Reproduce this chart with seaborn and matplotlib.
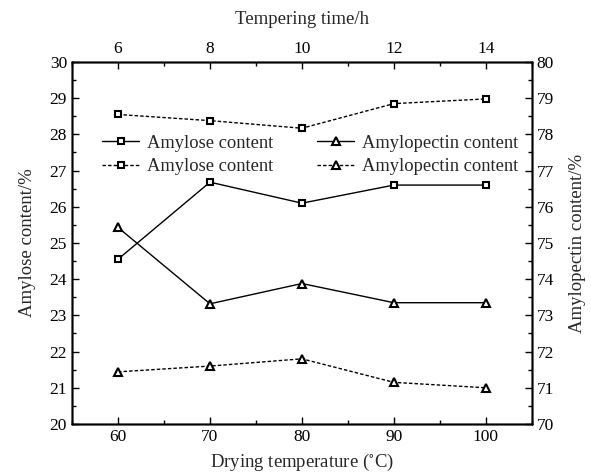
import pandas as pd
import seaborn as sns
import matplotlib.pyplot as plt
from matplotlib.ticker import MultipleLocator

drying_temp = [60, 70, 80, 90, 100]
tempering_time = [6, 8, 10, 12, 14]

# amylose (left axis) / amylopectin (right axis), solid = drying temperature, dashed = tempering time
amylose_drying = [24.55, 26.68, 26.1, 26.6, 26.6]
amylopectin_drying = [75.43, 73.32, 73.88, 73.35, 73.35]
amylose_tempering = [28.55, 28.38, 28.17, 28.85, 28.98]
amylopectin_tempering = [71.44, 71.6, 71.8, 71.15, 71.0]

sns.set_style("ticks")
plt.rcParams['font.family'] = ['Liberation Serif', 'DejaVu Serif']
plt.rcParams['mathtext.fontset'] = 'stix'

fig = plt.figure(figsize=(5.91, 4.75), dpi=100)
ax = fig.add_axes([0.1218, 0.1074, 0.7782, 0.7621])
ax_r = ax.twinx()
ax_t = ax.twiny()
ax_tr = ax_t.twinx()

line_kw = dict(color="black", linewidth=1.0, markerfacecolor="white",
               markeredgecolor="black", markeredgewidth=1.5)

df_d = pd.DataFrame({"drying": drying_temp, "amylose": amylose_drying, "amylopectin": amylopectin_drying})
df_t = pd.DataFrame({"tempering": tempering_time, "amylose": amylose_tempering,
                     "amylopectin": amylopectin_tempering})

sns.lineplot(data=df_d, x="drying", y="amylose", marker="s", markersize=5, linestyle="-", ax=ax,
             label="Amylose content", legend=False, **line_kw)
sns.lineplot(data=df_d, x="drying", y="amylopectin", marker="^", markersize=6, linestyle="-", ax=ax_r,
             label="Amylopectin content", legend=False, **line_kw)
sns.lineplot(data=df_t, x="tempering", y="amylose", marker="s", markersize=5, linestyle=(0, (2.5, 1.5)),
             ax=ax_t, label="Amylose content", legend=False, **line_kw)
sns.lineplot(data=df_t, x="tempering", y="amylopectin", marker="^", markersize=6, linestyle=(0, (2.5, 1.5)),
             ax=ax_tr, label="Amylopectin content", legend=False, **line_kw)

ax.set_xlim(55, 105)
ax_t.set_xlim(5, 15)
ax.set_ylim(20, 30)
ax_t.set_ylim(20, 30)
ax_r.set_ylim(70, 80)
ax_tr.set_ylim(70, 80)

ax.set_xticks(drying_temp)
ax.xaxis.set_minor_locator(MultipleLocator(5))
ax_t.set_xticks(tempering_time)
ax_t.xaxis.set_minor_locator(MultipleLocator(1))
ax.yaxis.set_major_locator(MultipleLocator(1))
ax.yaxis.set_minor_locator(MultipleLocator(0.5))
ax_r.yaxis.set_major_locator(MultipleLocator(1))
ax_r.yaxis.set_minor_locator(MultipleLocator(0.5))

for a in (ax, ax_r, ax_t, ax_tr):
    a.tick_params(which="both", direction="in", width=1.0, colors="black", labelsize=12.5)
    a.tick_params(which="major", length=5)
    a.tick_params(which="minor", length=3)
    for s in a.spines.values():
        s.set_visible(True)
        s.set_linewidth(1.0)
        s.set_color("black")

ax_tr.tick_params(axis="y", which="both", right=False, labelright=False)
ax_t.tick_params(axis="y", which="both", left=False, labelleft=False)

ax.set_xlabel("Drying temperature ($^{\\circ}$C)", fontsize=13.5, labelpad=5)
ax.set_ylabel("Amylose content/%", fontsize=13.5, labelpad=10)
ax_r.set_ylabel("Amylopectin content/%", fontsize=13.5, labelpad=11)
ax_t.set_xlabel("Tempering time/h", fontsize=13.5, labelpad=12)
ax_tr.set_ylabel("")

h1 = ax.get_lines()[0]
h2 = ax_t.get_lines()[0]
h3 = ax_r.get_lines()[0]
h4 = ax_tr.get_lines()[0]
ax_tr.legend([h1, h2, h3, h4],
             ["Amylose content", "Amylose content", "Amylopectin content", "Amylopectin content"],
             ncol=2, frameon=False, loc="upper left", bbox_to_anchor=(0.05, 0.82),
             fontsize=13.3, handlelength=2.0, handletextpad=0.4, columnspacing=2.4,
             labelspacing=0.35, borderaxespad=0)

fig.savefig("out.png", dpi=100)
